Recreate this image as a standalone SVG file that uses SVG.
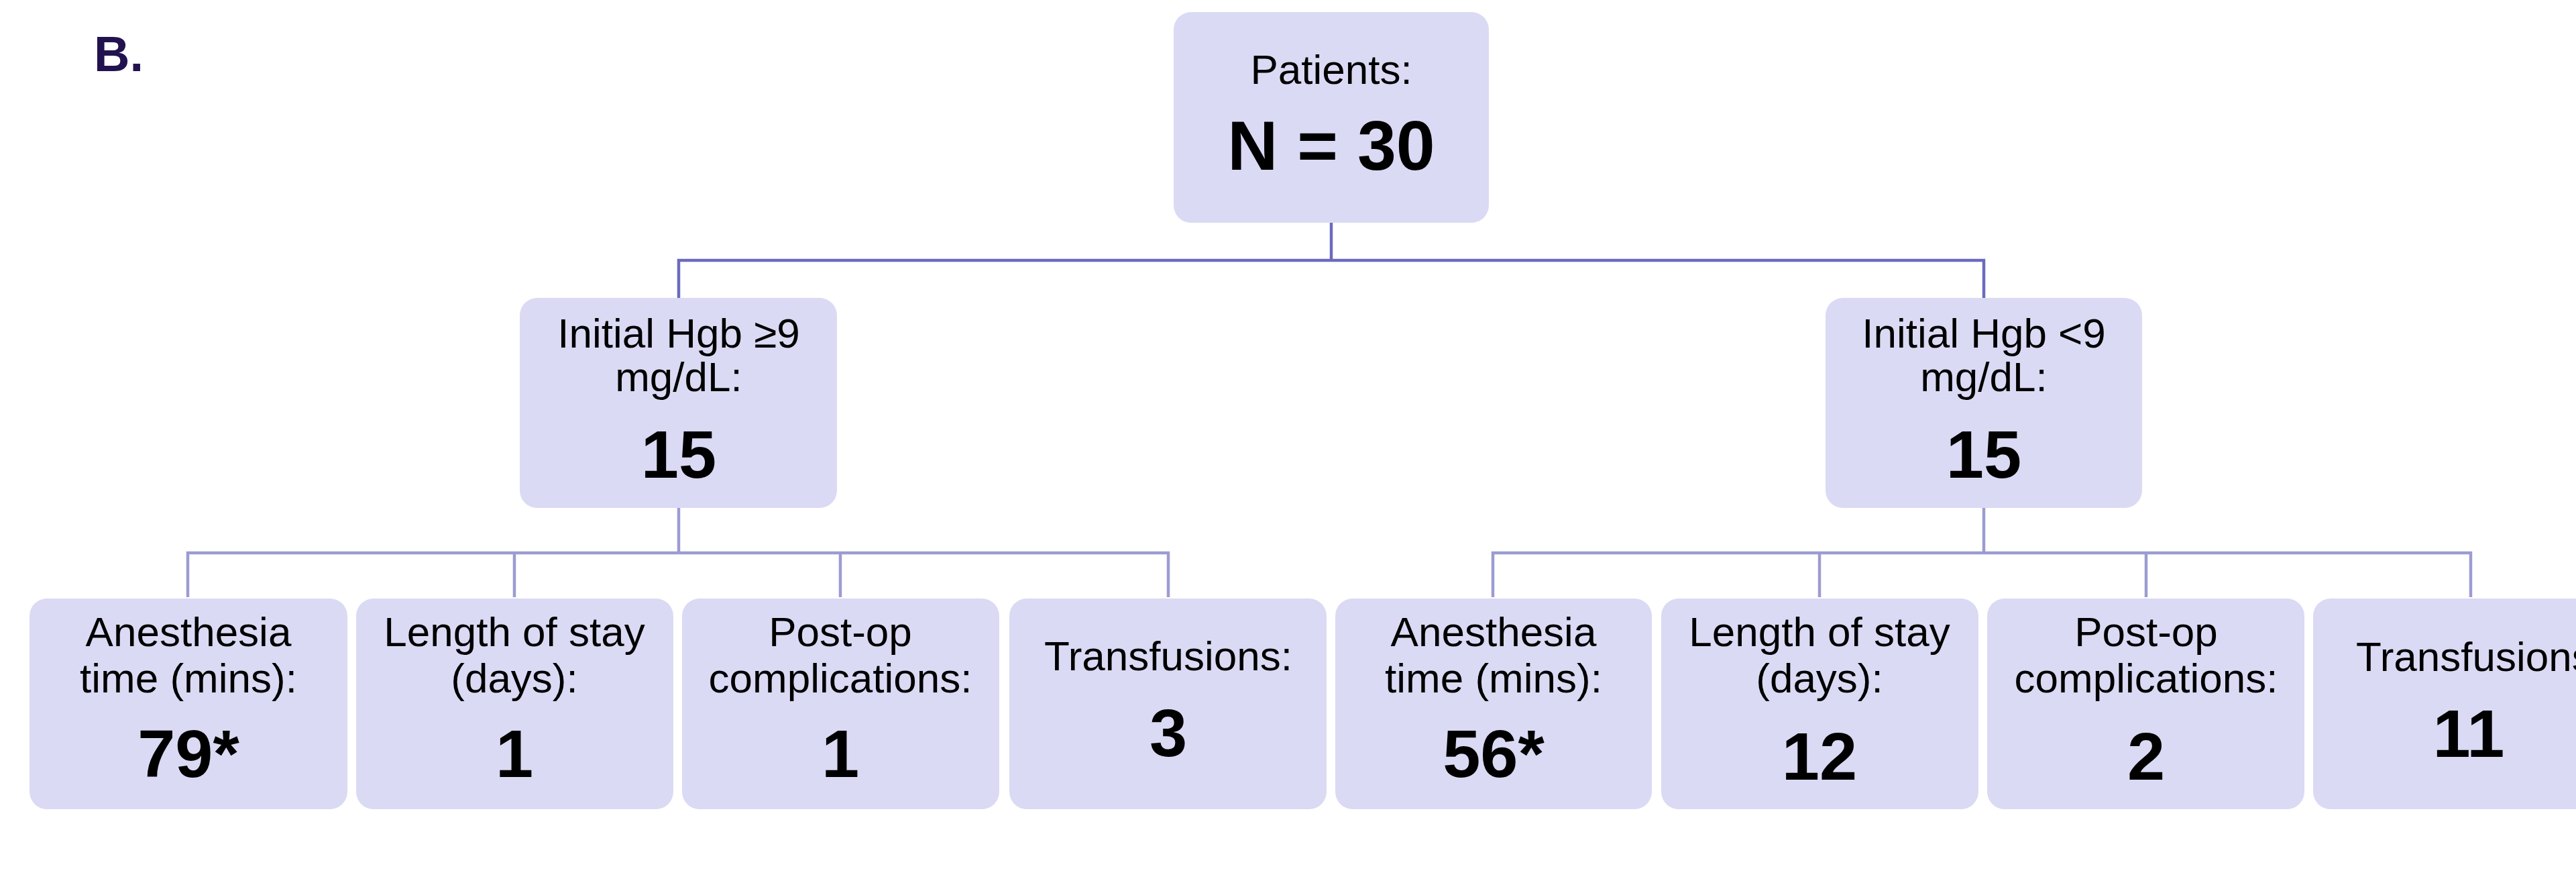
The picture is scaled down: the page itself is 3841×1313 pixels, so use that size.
<svg xmlns="http://www.w3.org/2000/svg" width="3841" height="1313" viewBox="0 0 3841 1313">
<style>
.box{fill:#dadaf4;}
.lbl{font-family:"Liberation Sans",Arial,sans-serif;font-size:62px;fill:#000;text-anchor:middle;}
.num{font-family:"Liberation Sans",Arial,sans-serif;font-size:101px;font-weight:bold;fill:#000;text-anchor:middle;}
.c1{stroke:#6a6abf;stroke-width:4.5;fill:none;}
.c2{stroke:#9c9cd3;stroke-width:4.5;fill:none;}
</style>
<rect width="3841" height="1313" fill="#ffffff"/>
<text x="140" y="106" font-family="Liberation Sans,Arial,sans-serif" font-size="74" font-weight="bold" fill="#22134f">B.</text>
<g id="connectors">
<path class="c1" d="M1985 332V388M1012 444V388H2958V444"/>
<path class="c2" d="M1012 757V824M280 890V824H1742V890M767 824V890M1253 824V890"/>
<path class="c2" d="M2958 757V824M2226 890V824H3684V890M2713 824V890M3200 824V890"/>
</g>
<g id="n-patients">
<rect class="box" x="1750" y="18" width="470" height="314" rx="26"/>
<text class="lbl" x="1985" y="125">Patients:</text>
<text class="num" x="1985" y="253" style="font-size:104px">N = 30</text>
</g>
<g id="n-hgb-high">
<rect class="box" x="775" y="444" width="473" height="313" rx="26"/>
<text class="lbl" x="1012" y="518">Initial Hgb ≥9</text>
<text class="lbl" x="1012" y="583">mg/dL:</text>
<text class="num" x="1012" y="712">15</text>
</g>
<g id="n-hgb-low">
<rect class="box" x="2722" y="444" width="472" height="313" rx="26"/>
<text class="lbl" x="2958" y="518">Initial Hgb &lt;9</text>
<text class="lbl" x="2958" y="583">mg/dL:</text>
<text class="num" x="2958" y="712">15</text>
</g>
<g id="n-h-anes">
<rect class="box" x="44" y="892" width="474" height="314" rx="26"/>
<text class="lbl" x="281" y="963">Anesthesia</text>
<text class="lbl" x="281" y="1032">time (mins):</text>
<text class="num" x="281" y="1158">79*</text>
</g>
<g id="n-h-los">
<rect class="box" x="531" y="892" width="473" height="314" rx="26"/>
<text class="lbl" x="767" y="963">Length of stay</text>
<text class="lbl" x="767" y="1032">(days):</text>
<text class="num" x="767" y="1158">1</text>
</g>
<g id="n-h-comp">
<rect class="box" x="1017" y="892" width="473" height="314" rx="26"/>
<text class="lbl" x="1253" y="963">Post-op</text>
<text class="lbl" x="1253" y="1032">complications:</text>
<text class="num" x="1253" y="1158">1</text>
</g>
<g id="n-h-trans">
<rect class="box" x="1505" y="892" width="473" height="314" rx="26"/>
<text class="lbl" x="1742" y="999">Transfusions:</text>
<text class="num" x="1742" y="1127">3</text>
</g>
<g id="n-l-anes">
<rect class="box" x="1991" y="892" width="472" height="314" rx="26"/>
<text class="lbl" x="2227" y="963">Anesthesia</text>
<text class="lbl" x="2227" y="1032">time (mins):</text>
<text class="num" x="2227" y="1158">56*</text>
</g>
<g id="n-l-los">
<rect class="box" x="2477" y="892" width="473" height="314" rx="26"/>
<text class="lbl" x="2713" y="963">Length of stay</text>
<text class="lbl" x="2713" y="1032">(days):</text>
<text class="num" x="2713" y="1162">12</text>
</g>
<g id="n-l-comp">
<rect class="box" x="2963" y="892" width="473" height="314" rx="26"/>
<text class="lbl" x="3200" y="963">Post-op</text>
<text class="lbl" x="3200" y="1032">complications:</text>
<text class="num" x="3200" y="1162">2</text>
</g>
<g id="n-l-trans">
<rect class="box" x="3449" y="892" width="473" height="314" rx="26"/>
<text class="lbl" x="3698" y="1000">Transfusions:</text>
<text class="num" x="3681" y="1128">11</text>
</g>
</svg>
